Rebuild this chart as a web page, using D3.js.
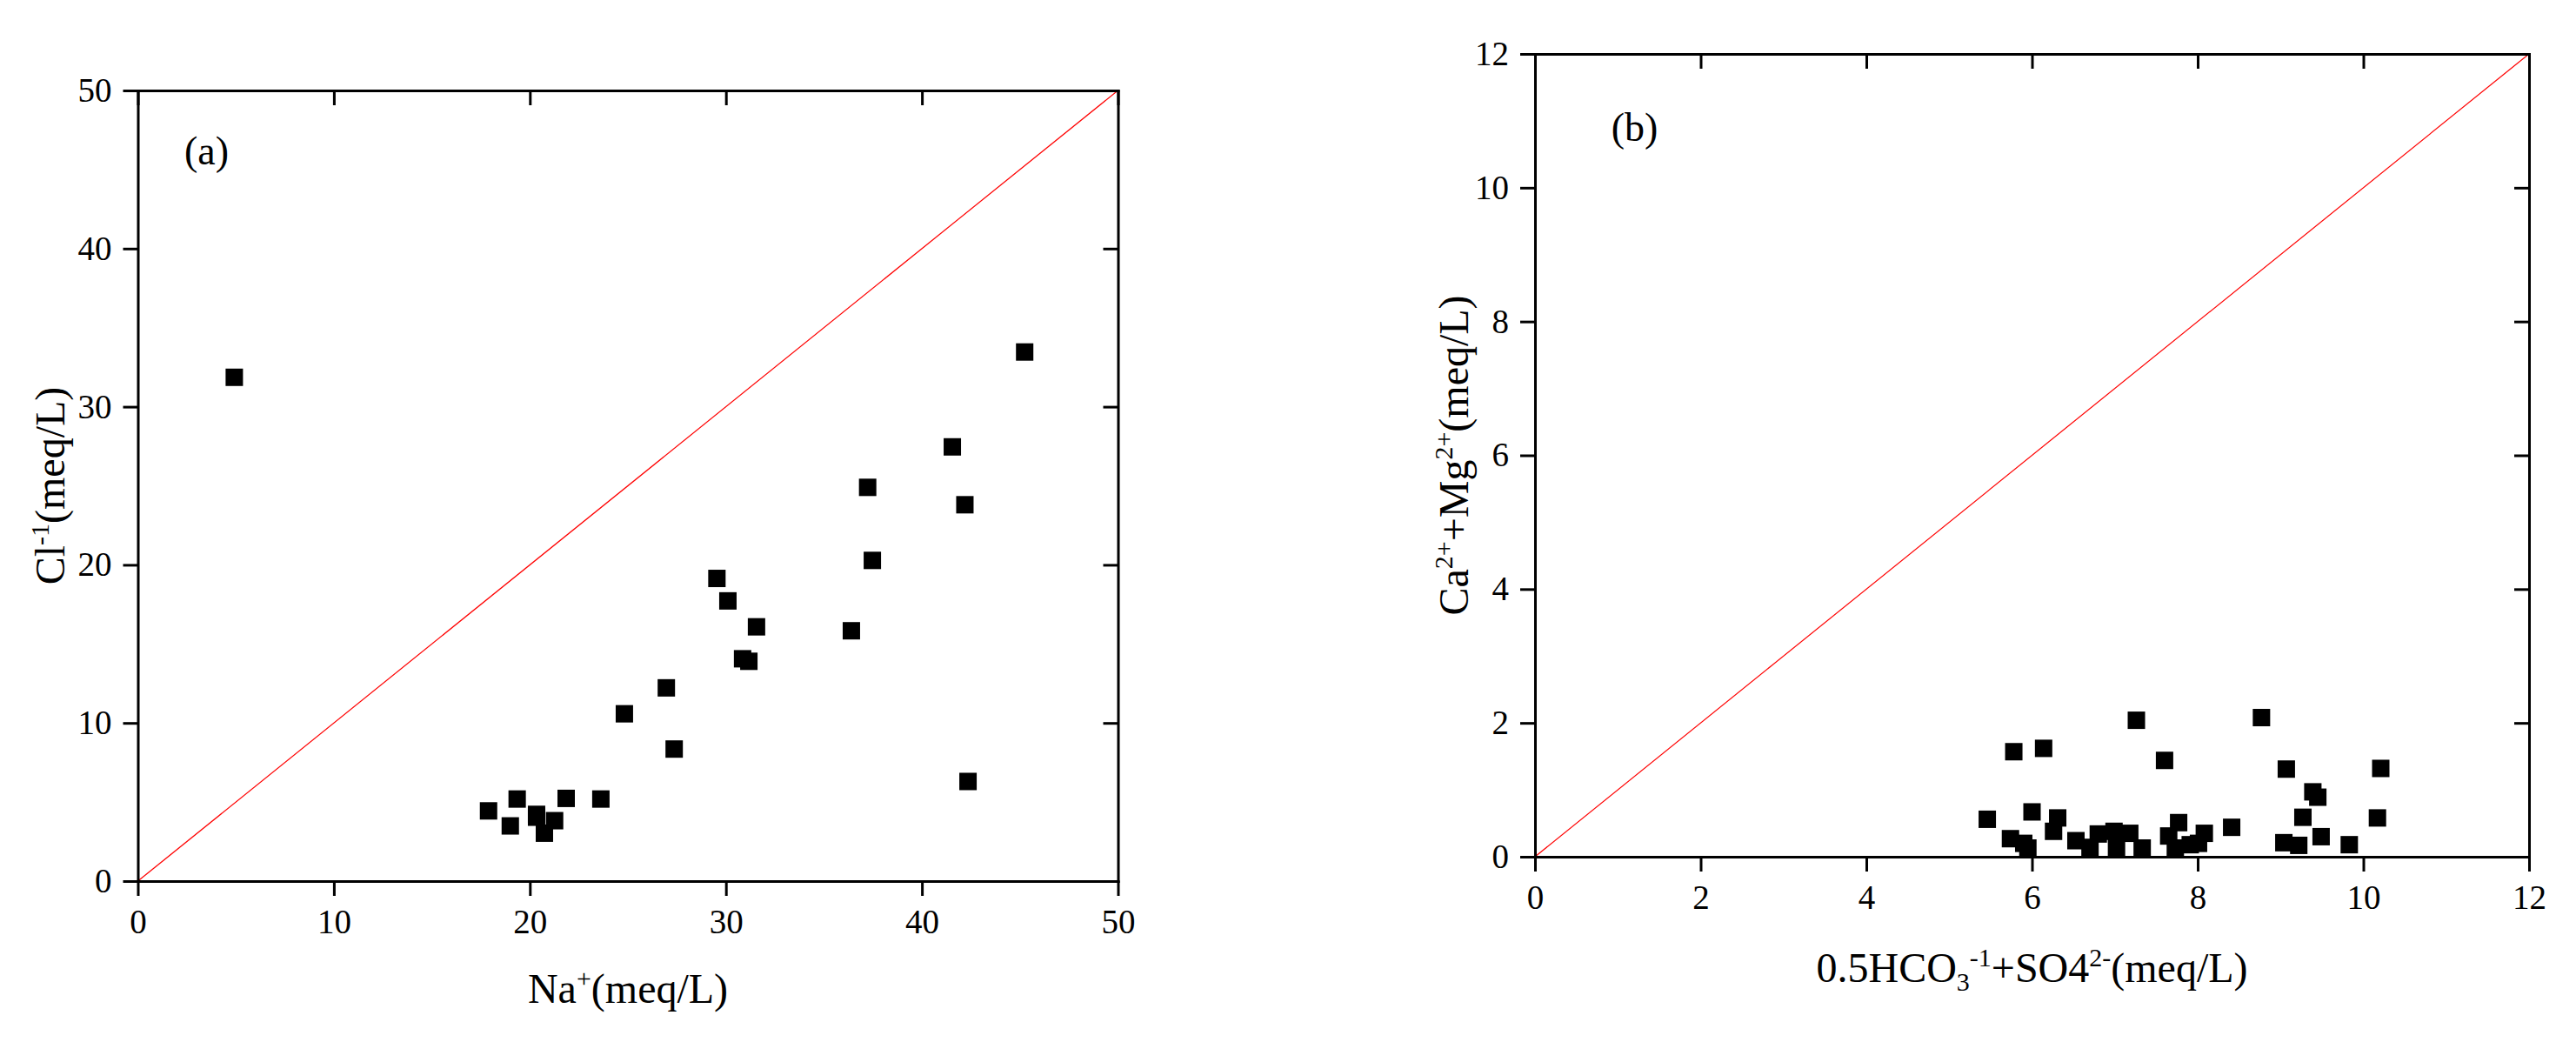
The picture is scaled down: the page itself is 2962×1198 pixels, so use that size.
<!DOCTYPE html>
<html lang="en">
<head>
    <meta charset="UTF-8">
    <title>Na+ vs Cl- and Ca2+ + Mg2+ vs 0.5HCO3- + SO42-</title>
    <script src="https://d3js.org/d3.v7.min.js"></script>
    <style>
        body { margin: 0; background: #fff; }
        svg { display: block; }
        svg text { font-family: "Liberation Serif", "Times New Roman", serif; }
    </style>
</head>
<body>
    <svg width="2962" height="1198"></svg>
    <script>
        // panel (a): Na+ vs Cl-1 (meq/L)
        const naValues = [4.92, 45.24, 41.55, 37.23, 42.19, 37.47, 29.54, 30.1, 31.56, 36.4, 30.85, 31.17,
            26.96, 24.82, 27.36, 42.35, 17.89, 19.35, 21.85, 23.62, 19.0, 20.34, 20.34, 21.26, 20.74];
        const clValues = [31.86, 33.46, 27.46, 24.9, 23.8, 20.28, 19.14, 17.72, 16.08, 15.83, 14.06, 13.9,
            12.22, 10.58, 8.35, 6.3, 4.44, 5.19, 5.23, 5.19, 3.49, 4.22, 4.04, 3.82, 3.03];
        const ticksA = [0, 10, 20, 30, 40, 50];

        // panel (b): 0.5HCO3-1 + SO42- vs Ca2+ + Mg2+ (meq/L)
        const hco3So4Values = [5.46, 5.78, 6.14, 7.26, 8.77, 7.6, 9.07, 10.21, 9.39, 9.45, 6.0, 6.31,
            9.27, 10.17, 8.41, 5.74, 5.9, 5.95, 6.26, 6.53, 6.8, 6.99, 7.18, 7.33, 6.7, 7.02,
            7.77, 7.65, 7.73, 8.01, 8.08, 7.91, 9.04, 9.22, 9.49, 9.83];
        const caMgValues = [0.56, 1.57, 1.62, 2.04, 2.08, 1.44, 1.31, 1.32, 0.97, 0.89, 0.67, 0.58,
            0.59, 0.58, 0.44, 0.27, 0.2, 0.13, 0.38, 0.24, 0.34, 0.38, 0.35, 0.13, 0.14, 0.13,
            0.51, 0.31, 0.13, 0.2, 0.35, 0.18, 0.21, 0.17, 0.3, 0.18];
        const ticksB = [0, 2, 4, 6, 8, 10, 12];

        const svg = d3.select("svg");
        const serif = "'Liberation Serif', 'Times New Roman', serif";
        const tickLen = 17;
        const box = 20;

        // text with sub/superscripts, segments: [text, "sup"|"sub"|undefined]
        function richText(sel, parts, size) {
            const small = Math.round(size * 0.62);
            let shift = 0;
            parts.forEach(([t, kind]) => {
                let target = 0;
                if (kind === "sup") target = -Math.round(size * 0.38);
                if (kind === "sub") target = Math.round(size * 0.2);
                sel.append("tspan")
                    .attr("dy", target - shift)
                    .attr("font-size", kind ? small : size)
                    .text(t);
                shift = target;
            });
        }

        function drawPanel(cfg) {
            const g = svg.append("g");
            const x = d3.scaleLinear().domain(cfg.domain).range([cfg.left, cfg.right]);
            const y = d3.scaleLinear().domain(cfg.domain).range([cfg.bottom, cfg.top]);

            // 1:1 line
            g.append("line")
                .attr("x1", x(cfg.domain[0])).attr("y1", y(cfg.domain[0]))
                .attr("x2", x(cfg.domain[1])).attr("y2", y(cfg.domain[1]))
                .attr("stroke", "#ff0000")
                .attr("stroke-width", 1.2);

            // samples
            g.append("g").selectAll("rect")
                .data(d3.zip(cfg.xs, cfg.ys))
                .join("rect")
                .attr("x", d => x(d[0]) - box / 2)
                .attr("y", d => y(d[1]) - box / 2)
                .attr("width", box)
                .attr("height", box)
                .attr("fill", "#000");

            // axes, bottom/left labelled with ticks outside, top/right ticks inside
            const axes = [
                g.append("g").attr("transform", `translate(0,${cfg.bottom})`)
                    .call(d3.axisBottom(x).tickValues(cfg.ticks).tickSize(tickLen).tickSizeOuter(0).tickPadding(15)),
                g.append("g").attr("transform", `translate(${cfg.left},0)`)
                    .call(d3.axisLeft(y).tickValues(cfg.ticks).tickSize(tickLen).tickSizeOuter(0).tickPadding(13)),
                g.append("g").attr("transform", `translate(0,${cfg.top})`)
                    .call(d3.axisTop(x).tickValues(cfg.ticks).tickSize(-tickLen).tickSizeOuter(0).tickFormat("")),
                g.append("g").attr("transform", `translate(${cfg.right},0)`)
                    .call(d3.axisRight(y).tickValues(cfg.ticks).tickSize(-tickLen).tickSizeOuter(0).tickFormat(""))
            ];
            axes.forEach(a => {
                a.attr("font-family", serif).attr("font-size", 39);
                a.select(".domain").attr("stroke-width", 3).attr("stroke-linecap", "square").attr("stroke", "#000");
                a.selectAll(".tick line").attr("stroke-width", 3).attr("stroke", "#000");
                a.selectAll(".tick text").attr("fill", "#000").attr("font-family", serif);
            });

            // panel letter
            g.append("text")
                .attr("x", x(cfg.letterAt[0]))
                .attr("y", y(cfg.letterAt[1]))
                .attr("font-family", serif)
                .attr("font-size", 46)
                .text(cfg.letter);

            // axis titles
            const xt = g.append("text")
                .attr("x", (cfg.left + cfg.right) / 2)
                .attr("y", cfg.bottom + cfg.xTitleGap)
                .attr("font-family", serif)
                .attr("text-anchor", "middle");
            richText(xt, cfg.xTitle, 48);

            const yt = g.append("text")
                .attr("transform", `translate(${cfg.yTitleX},${(cfg.top + cfg.bottom) / 2}) rotate(-90)`)
                .attr("font-family", serif)
                .attr("text-anchor", "middle");
            richText(yt, cfg.yTitle, 48);
        }

        drawPanel({
            domain: [0, 50], ticks: ticksA, xs: naValues, ys: clValues,
            left: 158.5, right: 1285.5, top: 104, bottom: 1013,
            letter: "(a)", letterAt: [2.37, 45.3],
            xTitle: [["Na"], ["+", "sup"], ["(meq/L)"]], xTitleGap: 140,
            yTitle: [["Cl"], ["-1", "sup"], ["(meq/L)"]], yTitleX: 74
        });

        drawPanel({
            domain: [0, 12], ticks: ticksB, xs: hco3So4Values, ys: caMgValues,
            left: 1765, right: 2908, top: 62, bottom: 985,
            letter: "(b)", letterAt: [0.92, 10.7],
            xTitle: [["0.5HCO"], ["3", "sub"], ["-1", "sup"], ["+SO4"], ["2-", "sup"], ["(meq/L)"]], xTitleGap: 144,
            yTitle: [["Ca"], ["2+", "sup"], ["+Mg"], ["2+", "sup"], ["(meq/L)"]], yTitleX: 1688
        });
    </script>
</body>
</html>
